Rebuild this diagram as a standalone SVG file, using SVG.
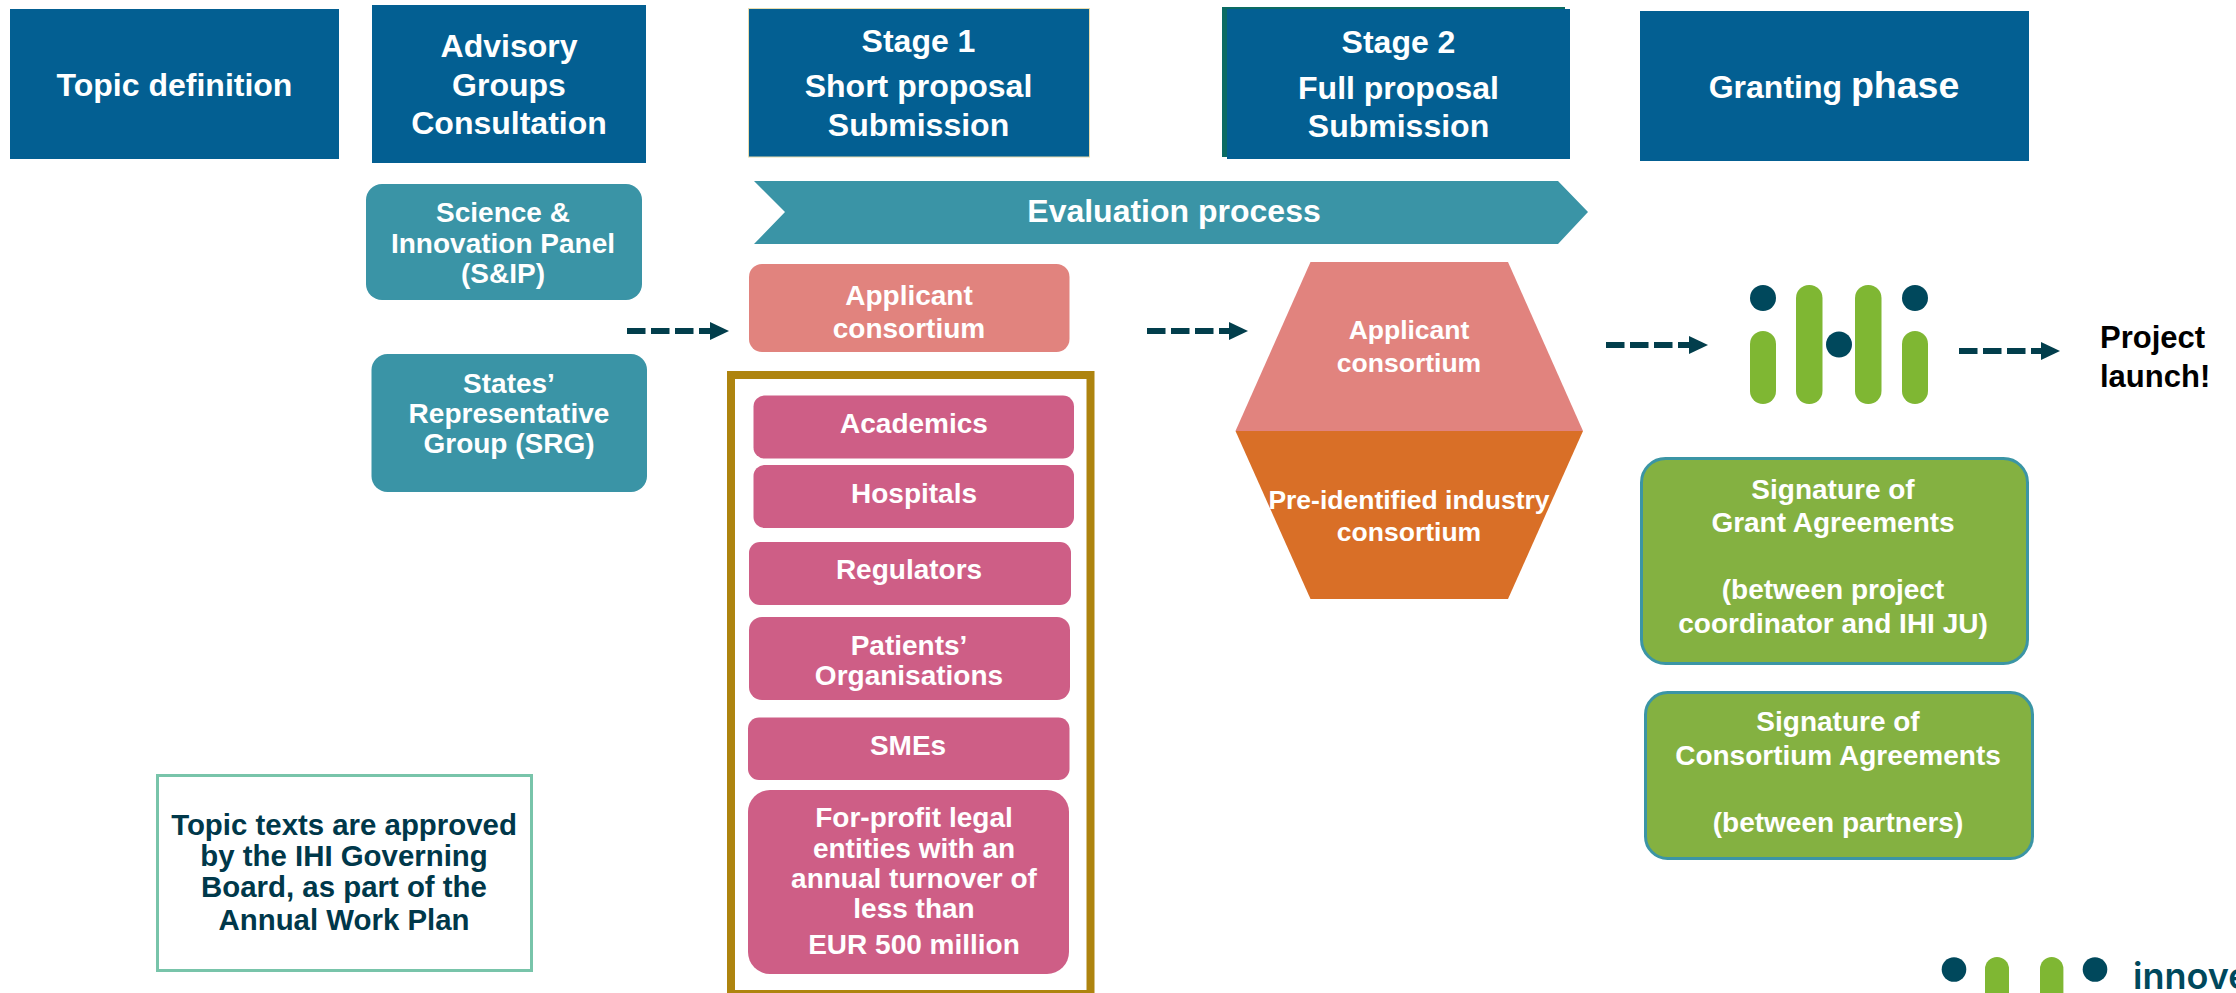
<svg xmlns="http://www.w3.org/2000/svg" width="2236" height="993" viewBox="0 0 2236 993">
<style>
text{font-family:"Liberation Sans",Arial,sans-serif;font-weight:700;fill:#fff;text-anchor:middle}
.h{font-size:32px}.b{font-size:28px}.t{font-size:26.5px}
.hdr{fill:#035f92}.teal{fill:#3a94a6}.sal{fill:#e1837e}.pink{fill:#ce5e86}
.grn{fill:#84b141;stroke:#3b95a5;stroke-width:3}
.lg{fill:#7fb733}.ld{fill:#00485c}
.dash{stroke:#023e4c;stroke-width:6;stroke-dasharray:18.5 5.5;fill:none}
.note{font-size:29.4px;fill:#00384a}
.bk{font-size:31px;fill:#000;text-anchor:start}
</style>
<defs>
<marker id="ah" markerUnits="userSpaceOnUse" markerWidth="19" markerHeight="18" refX="0" refY="9" orient="auto" overflow="visible"><path d="M0 0L19 9L0 18Z" fill="#023e4c"/></marker>
</defs>
<rect width="2236" height="993" fill="#fff"/>
<g id="topic-definition"><rect class="hdr" x="10" y="9" width="329" height="150"/><text class="h" x="174.5" y="96">Topic definition</text></g>
<g id="advisory-groups"><rect class="hdr" x="372" y="5" width="274" height="158"/><text class="h" x="509" y="57">Advisory</text><text class="h" x="509" y="96">Groups</text><text class="h" x="509" y="134">Consultation</text></g>
<g id="stage-1"><rect class="hdr" x="748.500" y="8.500" width="341" height="148.500" stroke="#e8dcae" stroke-width="1"/><text class="h" x="918.500" y="52">Stage 1</text><text class="h" x="918.500" y="97">Short proposal</text><text class="h" x="918.500" y="136">Submission</text></g>
<g id="stage-2"><rect x="1222" y="7" width="343" height="150" fill="#0b6b63"/><rect class="hdr" x="1227" y="9" width="343" height="150"/><text class="h" x="1398.500" y="53">Stage 2</text><text class="h" x="1398.500" y="99">Full proposal</text><text class="h" x="1398.500" y="137">Submission</text></g>
<g id="granting-phase"><rect class="hdr" x="1640" y="11" width="389" height="150"/><text class="h" x="1834" y="98">Granting <tspan font-size="37.500">phase</tspan></text></g>
<g id="science-panel"><rect class="teal" x="366" y="184" width="276" height="116" rx="16"/><text class="b" x="503" y="222">Science &amp;</text><text class="b" x="503" y="253">Innovation Panel</text><text class="b" x="503" y="283">(S&amp;IP)</text></g>
<g id="states-group"><rect class="teal" x="371.500" y="354" width="275.500" height="138" rx="16"/><text class="b" x="509" y="393">States’</text><text class="b" x="509" y="423">Representative</text><text class="b" x="509" y="453">Group (SRG)</text></g>
<g id="evaluation-process"><path class="teal" d="M754 181H1558L1588 212L1558 244H754L785 212Z"/><text class="h" x="1174" y="222">Evaluation process</text></g>
<g id="applicant-stage1"><rect class="sal" x="749" y="264" width="320.500" height="88" rx="13"/><text class="b" x="909" y="305">Applicant</text><text class="b" x="909" y="338">consortium</text></g>
<g id="applicant-frame"><rect x="731" y="375" width="359.500" height="619" fill="none" stroke="#ae840f" stroke-width="8"/></g>
<g id="academics"><rect class="pink" x="753.500" y="395.500" width="320.500" height="63" rx="11"/><text class="b" x="914" y="433">Academics</text></g>
<g id="hospitals"><rect class="pink" x="753.500" y="465" width="320.500" height="63" rx="11"/><text class="b" x="914" y="503">Hospitals</text></g>
<g id="regulators"><rect class="pink" x="749" y="542" width="322" height="63" rx="11"/><text class="b" x="909" y="579">Regulators</text></g>
<g id="patients"><rect class="pink" x="749" y="617" width="321" height="83" rx="13"/><text class="b" x="909" y="655">Patients’</text><text class="b" x="909" y="685">Organisations</text></g>
<g id="smes"><rect class="pink" x="748" y="717.500" width="321.500" height="62.500" rx="11"/><text class="b" x="908" y="755">SMEs</text></g>
<g id="for-profit"><rect class="pink" x="748" y="790" width="321" height="184" rx="22"/><text class="b" x="914" y="827">For-profit legal</text><text class="b" x="914" y="858">entities with an</text><text class="b" x="914" y="888">annual turnover of</text><text class="b" x="914" y="918">less than</text><text class="b" x="914" y="954">EUR 500 million</text></g>
<g id="topic-note"><rect x="157.500" y="775.500" width="374" height="195" fill="#fff" stroke="#78c4aa" stroke-width="3"/><text class="note" x="344" y="835">Topic texts are approved</text><text class="note" x="344" y="866">by the IHI Governing</text><text class="note" x="344" y="897">Board, as part of the</text><text class="note" x="344" y="930">Annual Work Plan</text></g>
<g id="applicant-stage2"><path class="sal" d="M1310.500 262H1508L1583 431H1235.500Z"/><text class="t" x="1409" y="339">Applicant</text><text class="t" x="1409" y="372">consortium</text></g>
<g id="industry-consortium"><path fill="#d96f27" d="M1235.500 431H1583L1508 599H1310.500Z"/><text class="t" x="1409" y="509">Pre-identified industry</text><text class="t" x="1409" y="541">consortium</text></g>
<g id="ihi-logo">
<circle class="ld" cx="1763" cy="298" r="13"/><rect class="lg" x="1750" y="331" width="26" height="73" rx="13"/>
<rect class="lg" x="1796" y="285" width="26.500" height="119" rx="13"/><circle class="ld" cx="1839" cy="344.500" r="13"/>
<rect class="lg" x="1855" y="285" width="26.500" height="119" rx="13"/>
<circle class="ld" cx="1915" cy="298" r="13"/><rect class="lg" x="1902" y="331" width="26" height="73" rx="13"/>
</g>
<g id="project-launch"><text class="bk" x="2100" y="348">Project</text><text class="bk" x="2100" y="387">launch!</text></g>
<g id="grant-agreements"><rect class="grn" x="1641.500" y="458.500" width="386" height="205" rx="24"/><text class="b" x="1833" y="499">Signature of</text><text class="b" x="1833" y="532">Grant Agreements</text><text class="b" x="1833" y="599">(between project</text><text class="b" x="1833" y="633">coordinator and IHI JU)</text></g>
<g id="consortium-agreements"><rect class="grn" x="1645.500" y="692.500" width="387" height="166" rx="22"/><text class="b" x="1838" y="731">Signature of</text><text class="b" x="1838" y="765">Consortium Agreements</text><text class="b" x="1838" y="832">(between partners)</text></g>
<g id="footer-logo">
<circle class="ld" cx="1954" cy="969.500" r="12.300"/><path class="lg" d="M1985 993V969a12 12 0 0 1 24 0V993Z"/><path class="lg" d="M2040 993V969a11.700 12 0 0 1 23.400 0V993Z"/><circle class="ld" cx="2095" cy="969.500" r="12.300"/>
<text x="2133" y="989" style="font-family:Inter,'Liberation Sans',sans-serif;font-size:36px;font-weight:600;fill:#00485c;text-anchor:start">innove</text>
</g>
<g id="connectors">
<path class="dash" d="M627 331H710" marker-end="url(#ah)"/>
<path class="dash" d="M1147 331H1229" marker-end="url(#ah)"/>
<path class="dash" d="M1606 345H1689" marker-end="url(#ah)"/>
<path class="dash" d="M1959 351H2041" marker-end="url(#ah)"/>
</g>
</svg>
